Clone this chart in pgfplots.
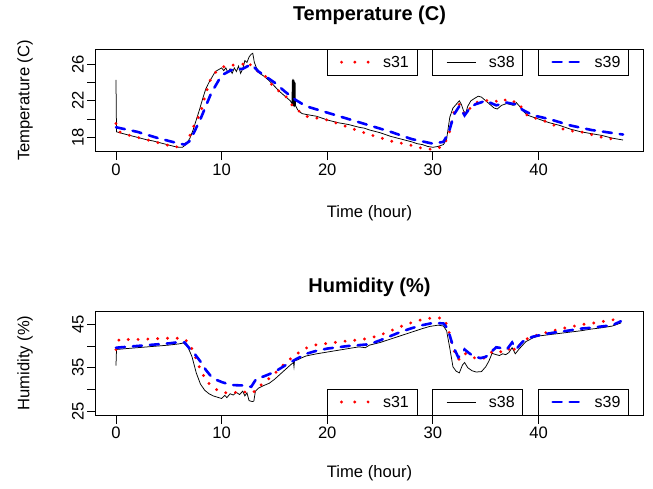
\documentclass[border=0pt]{standalone}
\usepackage{pgfplots}
\pgfplotsset{compat=1.18}
\usepackage{fontspec}
\setmainfont{Liberation Sans}

\pgfplotsset{
  rpanel/.style={
    scale only axis, width=547.6pt,
    xmin=-1.92, xmax=49.92,
    xtick={0,10,...,40},
    tick align=outside, major tick length=8.5pt,
    xtick pos=bottom, ytick pos=left,
    every tick/.style={black, line width=0.8pt},
    axis line style={line width=0.8pt},
    tick label style={font=\fontsize{16.6}{20}\selectfont},
    yticklabel style={rotate=90, anchor=south},
    /pgf/number format/assume math mode=true,
  },
}
\tikzset{
  s31/.style={red, line width=3.2pt, line cap=round, dash pattern=on 0pt off 9.8pt},
  s31leg/.style={red, line width=3.2pt, line cap=round, dash pattern=on 0pt off 13.3pt},
  s38/.style={black, line width=0.75pt},
  s39/.style={blue, line width=2.6pt, line cap=round, dash pattern=on 9pt off 8pt},
}
\newcommand{\labfont}{\fontsize{16.6}{20}\selectfont}
\newcommand{\legfont}{\fontsize{16}{19}\selectfont}

\begin{document}
\begin{tikzpicture}
\path[use as bounding box] (0,0) rectangle (653pt,489pt);

% ---------- Temperature ----------
\begin{axis}[rpanel, at={(95.7pt,337.3pt)}, anchor=south west, height=102.4pt,
    ymin=16.42, ymax=27.64,
    ytick={18,20,...,26}, yticklabels={18,,22,,26}]
  \addplot[s38] coordinates {
    (0,24.3) (0.05,18.6) (0.5,18.45) (1,18.3) (1.5,18.15) (2,18.0) (2.5,17.85)
    (3,17.7) (3.5,17.6) (4,17.45) (4.5,17.3) (5,17.15) (5.5,17.0) (6,16.9)
    (6.3,16.9) (6.6,17.2) (7,17.9) (7.3,18.8) (7.6,19.9) (7.9,21.0) (8.2,22.2)
    (8.5,23.3) (8.8,24.0) (9.1,24.6) (9.4,25.2) (9.7,25.4) (10.0,25.6) (10.2,25.3)
    (10.4,25.6) (10.6,25.1) (10.8,25.5) (11.0,25.0) (11.2,25.6) (11.4,25.2)
    (11.6,25.8) (11.8,25.0) (12.0,25.5) (12.2,26.4) (12.4,26.2) (12.6,26.8)
    (12.8,27.1) (12.95,27.2) (13.1,26.2) (13.3,25.6) (13.6,25.0) (14.0,24.7)
    (14.5,24.2) (15.0,23.6) (15.5,23.0) (16.0,22.5) (16.5,22.0) (16.65,21.7)
    (16.7,24.3) (16.72,21.5) (16.75,24.4) (16.78,21.4) (16.8,24.2) (16.83,21.4)
    (16.86,24.3) (16.88,21.3) (16.91,24.1) (16.94,21.4) (16.96,24.0) (16.99,21.5)
    (17.2,21.0) (17.6,20.6) (18.0,20.5) (18.5,20.4) (19.0,20.3) (19.5,20.1)
    (20.0,19.9) (21.0,19.6) (22.0,19.4) (23.0,19.1) (23.5,19.0) (24.0,18.8)
    (25.0,18.5) (26.0,18.1) (27.0,17.8) (28.0,17.5) (28.5,17.3) (29.0,17.2)
    (29.5,17.0) (30.0,16.9) (30.5,17.0) (31.0,17.2) (31.3,17.8) (31.6,20.2)
    (31.9,21.2) (32.2,21.6) (32.5,22.0) (32.7,21.6) (32.9,20.9) (33.1,20.6)
    (33.3,21.4) (33.6,22.0) (34.0,22.3) (34.3,22.5) (34.6,22.4) (35.0,22.0)
    (35.4,21.6) (35.8,21.2) (36.1,21.1) (36.5,21.5) (37.0,21.7) (37.3,21.6)
    (37.6,21.5) (37.9,21.8) (38.2,21.4) (38.6,20.8) (39.0,20.4) (39.5,20.2)
    (40.0,20.0) (41.0,19.6) (42.0,19.3) (43.0,18.9) (44.0,18.6) (45.0,18.4)
    (46.0,18.2) (47.0,17.9) (48.0,17.7)
  };
  \addplot[s31] coordinates {
    (0,19.5) (0.3,18.6) (1,18.3) (2,18.0) (3,17.7) (4,17.4) (5,17.1) (5.5,16.9)
    (6.5,17.1) (7,18.2) (7.5,19.6) (8,20.6) (8.5,22.8) (9,24.5) (9.5,25.2)
    (10,25.6) (10.5,25.9) (11,25.9) (12,26.0) (12.5,26.3) (13,25.5) (14,24.9)
    (15,23.4) (16,22.6) (16.8,21.3) (18,20.3) (20,19.9) (22,19.1) (24,18.3)
    (26,17.6) (28,17.1) (29.3,16.7) (30.3,16.7) (31,17.1) (31.5,18.2) (32,20.8)
    (32.5,21.6) (33,20.5) (34,21.8) (35,22.0) (35.5,22.1) (36.5,21.8) (37,22.2)
    (37.5,21.9) (38,21.9) (39,20.3) (40,20.0) (41,19.6) (42,19.0) (43,18.7)
    (44,18.6) (45,18.3) (46,18.0) (47,17.8) (47.5,17.7)
  };
  \addplot[s39] coordinates {
    (0,19.1) (2,18.6) (4,17.9) (6,17.3) (6.5,17.2) (7,17.6) (8,20.0) (9,22.8)
    (10,24.8) (11,25.4) (12,25.5) (12.8,26.0) (13.5,25.2) (15,24.0) (16,23.0)
    (17,22.1) (18,21.4) (20,20.7) (22,20.0) (24,19.3) (26,18.6) (28,17.8)
    (30,17.3) (31,17.5) (31.5,18.5) (32,20.5) (32.5,21.4) (33,20.4) (33.5,21.2)
    (34,21.6) (35,22.0) (36,21.5) (37,21.8) (37.8,21.6) (38.5,21.0) (39.5,20.4)
    (41,20.0) (43,19.3) (45,18.8) (48,18.3)
  };
  % legend boxes
  \draw[line width=0.8pt, fill=white] (axis cs:20,24.83) rectangle (axis cs:28.5,27.64);
  \draw[line width=0.8pt, fill=white] (axis cs:30,24.83) rectangle (axis cs:38.5,27.64);
  \draw[line width=0.8pt, fill=white] (axis cs:40,24.83) rectangle (axis cs:48.5,27.64);
  \draw[s31leg] (axis cs:21.35,26.23) -- (axis cs:23.87,26.23);
  \draw[s38] (axis cs:31.29,26.23) -- (axis cs:34.06,26.23);
  \draw[s39] (axis cs:41.34,26.23) -- (axis cs:44.06,26.23);
  \node[anchor=west, inner sep=0pt, font=\legfont] at (axis cs:25.26,26.23) {s31};
  \node[anchor=west, inner sep=0pt, font=\legfont] at (axis cs:35.29,26.23) {s38};
  \node[anchor=west, inner sep=0pt, font=\legfont] at (axis cs:45.3,26.23) {s39};
\end{axis}

% ---------- Humidity ----------
\begin{axis}[rpanel, at={(95.7pt,73.7pt)}, anchor=south west, height=104.3pt,
    ymin=24.03, ymax=48.06,
    ytick={25,30,...,45}, yticklabels={25,,35,,45}]
  \addplot[s38] coordinates {
    (0,35.5) (0.05,39.2) (1,39.4) (2,39.6) (3,39.8) (4,40.0) (5,40.2) (6,40.5)
    (6.4,40.7) (6.8,39.8) (7.2,37.5) (7.6,33.8) (8.0,31.2) (8.4,29.8) (8.8,29.0)
    (9.2,28.5) (9.6,28.2) (10.0,27.9) (10.3,28.6) (10.5,28.1) (10.8,29.0)
    (11.1,28.7) (11.4,29.3) (11.7,28.8) (12.0,29.6) (12.2,28.5) (12.4,29.2)
    (12.6,27.4) (12.9,27.2) (13.05,27.3) (13.2,29.6) (13.5,30.3) (14.0,30.9)
    (14.5,31.4) (15.0,32.3) (15.5,33.4) (16.0,34.5) (16.5,35.6) (16.8,36.2)
    (16.85,35.2) (16.9,36.6) (17.2,36.8) (17.6,37.3) (18.0,37.7) (19.0,38.2)
    (20.0,38.6) (21.0,39.0) (22.0,39.4) (23.0,39.8) (23.6,39.6) (24.0,40.2)
    (25.0,40.8) (26.0,41.6) (27.0,42.4) (28.0,43.2) (29.0,44.0) (29.7,44.5)
    (30.5,44.8) (31.0,44.6) (31.3,43.5) (31.6,39.5) (31.9,35.2) (32.2,34.2)
    (32.5,33.8) (32.8,35.6) (33.0,36.2) (33.3,35.0) (33.7,34.3) (34.1,34.0)
    (34.6,34.1) (35.0,35.2) (35.3,36.5) (35.6,38.3) (36.0,38.0) (36.3,37.8)
    (36.6,38.2) (36.9,38.0) (37.2,38.5) (37.5,39.6) (37.8,38.2) (38.2,39.4)
    (38.8,41.0) (39.5,41.9) (40.0,42.3) (41.0,42.6) (42.0,42.9) (43.0,43.2)
    (44.0,43.5) (45.0,43.9) (46.0,44.2) (47.0,44.6) (47.8,45.3)
  };
  \addplot[s31] coordinates {
    (0,39.2) (0.3,41.5) (1,41.5) (2,41.5) (3,41.6) (4,41.7) (5,41.8) (6,41.8)
    (6.5,41.6) (7.0,40.4) (7.5,37.5) (8.0,34.5) (8.5,32.2) (9.0,30.8) (9.5,30.0)
    (10.0,29.3) (10.5,29.2) (11,29.3) (11.5,29.3) (12,29.6) (12.5,29.1) (13,29.3)
    (13.5,30.6) (14,31.5) (15,33.6) (16,36.0) (17,38.0) (18,39.5) (19,40.3)
    (20,40.6) (21,40.9) (22,41.2) (23,41.4) (24,41.8) (25,42.5) (26,43.5)
    (27,44.5) (28,45.4) (29,46.1) (30,46.5) (31,46.4) (31.4,44.5) (31.9,39.6)
    (32.3,37.0) (32.6,36.9) (33.0,38.3) (33.5,37.8) (34.0,37.2) (34.5,37.0)
    (35.0,37.3) (35.5,38.5) (36.0,39.0) (36.5,38.6) (37.0,38.6) (37.5,40.2)
    (37.8,38.8) (38.3,40.5) (39.0,41.8) (40.0,42.6) (41,43.3) (42,43.9) (43,44.4)
    (44,44.9) (45,45.2) (46,45.6) (47,46.0) (47.8,46.4)
  };
  \addplot[s39] coordinates {
    (0,39.6) (1,39.8) (2,40.0) (3,40.2) (4,40.4) (5,40.6) (6,40.9) (6.5,40.8)
    (7.0,39.3) (7.5,38.0) (8.0,36.4) (8.5,34.5) (9.0,33.0) (9.5,32.2) (10.0,31.7)
    (10.5,31.3) (11,31.0) (12,30.9) (12.8,30.6) (13.3,32.5) (14,33.0) (15,34.0)
    (16,35.5) (17,36.9) (18,38.2) (19,38.9) (20,39.4) (21,39.7) (22,40.0)
    (23,40.2) (24,40.4) (25,41.3) (26,42.3) (27,43.3) (28,44.1) (29,44.8)
    (30,45.3) (31,45.2) (31.4,44.0) (31.9,40.0) (32.4,37.4) (32.7,38.0)
    (33.0,39.2) (33.4,38.4) (33.8,37.7) (34.5,37.2) (35.0,37.5) (35.5,38.6)
    (36.0,39.7) (36.5,39.5) (37.0,39.2) (37.5,40.8) (37.9,39.3) (38.5,41.0)
    (39.4,42.1) (40.5,42.7) (41.5,43.1) (43.0,43.6) (44.0,44.0) (45.0,44.2)
    (46.0,44.5) (47.0,44.8) (47.8,45.7)
  };
  % legend boxes
  \draw[line width=0.8pt, fill=white] (axis cs:20,24.03) rectangle (axis cs:28.5,30.09);
  \draw[line width=0.8pt, fill=white] (axis cs:30,24.03) rectangle (axis cs:38.5,30.09);
  \draw[line width=0.8pt, fill=white] (axis cs:40,24.03) rectangle (axis cs:48.5,30.09);
  \draw[s31leg] (axis cs:21.35,27.1) -- (axis cs:23.87,27.1);
  \draw[s38] (axis cs:31.29,27.1) -- (axis cs:34.06,27.1);
  \draw[s39] (axis cs:41.34,27.1) -- (axis cs:44.06,27.1);
  \node[anchor=west, inner sep=0pt, font=\legfont] at (axis cs:25.26,27.1) {s31};
  \node[anchor=west, inner sep=0pt, font=\legfont] at (axis cs:35.29,27.1) {s38};
  \node[anchor=west, inner sep=0pt, font=\legfont] at (axis cs:45.3,27.1) {s39};
\end{axis}

% titles and axis labels
\node[font=\bfseries\fontsize{20}{24}\selectfont] at (369.5pt,474pt) {Temperature (C)};
\node[font=\bfseries\fontsize{20}{24}\selectfont] at (369.5pt,202pt) {Humidity (\%)};
\node[font=\labfont] at (369.5pt,276pt) {Time (hour)};
\node[font=\labfont] at (369.5pt,16pt) {Time (hour)};
\node[font=\labfont, rotate=90] at (25pt,388.5pt) {Temperature (C)};
\node[font=\labfont, rotate=90] at (25pt,126pt) {Humidity (\%)};
\end{tikzpicture}
\end{document}
